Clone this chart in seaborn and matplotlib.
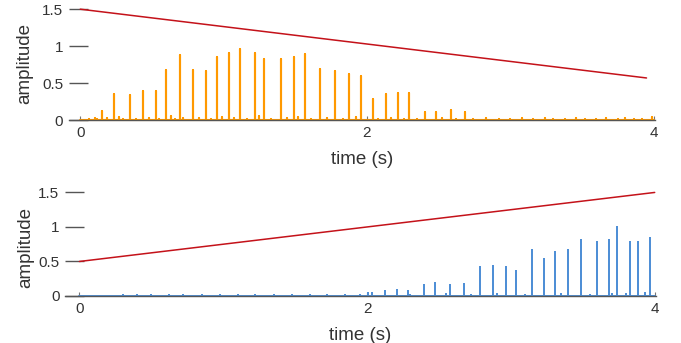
import numpy as np
import matplotlib
matplotlib.use("Agg")
import matplotlib.pyplot as plt
import seaborn as sns

# ========= DATA ===================================
# top panel: decaying envelope + orange click train
env_top_t = [0.0, 3.95]
env_top_a = [1.5, 0.57]
clicks_top_t = [0.155, 0.234, 0.35, 0.44, 0.525, 0.597, 0.694, 0.787, 0.874, 0.957,
                1.041, 1.113, 1.22, 1.285, 1.397, 1.488, 1.565, 1.669, 1.776, 1.876,
                1.955, 2.041, 2.132, 2.218, 2.295, 2.402, 2.479, 2.583, 2.681]
clicks_top_a = [0.13, 0.35, 0.34, 0.39, 0.40, 0.68, 0.88, 0.68, 0.66, 0.85,
                0.905, 0.96, 0.905, 0.82, 0.82, 0.85, 0.89, 0.69, 0.67, 0.62,
                0.60, 0.29, 0.35, 0.36, 0.36, 0.11, 0.11, 0.135, 0.115]
noise_top_t = [0.06, 0.1, 0.12, 0.19, 0.27, 0.3, 0.39, 0.48, 0.55, 0.63, 0.66, 0.72,
               0.83, 0.91, 0.99, 1.07, 1.16, 1.25, 1.33, 1.44, 1.52, 1.61, 1.72, 1.83,
               1.92, 2.08, 2.17, 2.26, 2.35, 2.52, 2.62, 2.74, 2.83, 2.92, 3.0, 3.08,
               3.16, 3.24, 3.3, 3.38, 3.46, 3.52, 3.6, 3.67, 3.75, 3.8, 3.86, 3.92, 3.99]
noise_top_a = [0.02, 0.03, 0.02, 0.03, 0.04, 0.02, 0.02, 0.03, 0.02, 0.05, 0.02, 0.03,
               0.03, 0.02, 0.04, 0.03, 0.02, 0.05, 0.02, 0.03, 0.04, 0.02, 0.03, 0.02,
               0.04, 0.02, 0.03, 0.02, 0.02, 0.03, 0.02, 0.02, 0.03, 0.02, 0.02, 0.03,
               0.02, 0.03, 0.02, 0.02, 0.03, 0.02, 0.02, 0.03, 0.02, 0.03, 0.02, 0.02, 0.04]

# bottom panel: rising envelope + blue click train
env_bot_t = [0.0, 4.0]
env_bot_a = [0.5, 1.5]
clicks_bot_t = [2.009, 2.037, 2.125, 2.21, 2.287, 2.394, 2.473, 2.577, 2.675, 2.788,
                2.876, 2.964, 3.038, 3.145, 3.228, 3.309, 3.398, 3.49, 3.6, 3.681,
                3.739, 3.827, 3.885, 3.968]
clicks_bot_a = [0.04, 0.05, 0.07, 0.08, 0.07, 0.16, 0.19, 0.16, 0.17, 0.415,
                0.435, 0.415, 0.36, 0.66, 0.53, 0.63, 0.66, 0.81, 0.78, 0.81,
                1.0, 0.78, 0.78, 0.84]
noise_bot_t = [0.3, 0.4, 0.5, 0.62, 0.72, 0.85, 0.98, 1.1, 1.22, 1.35, 1.48, 1.6,
               1.72, 1.85, 1.95, 2.3, 2.55, 2.72, 2.9, 3.1, 3.35, 3.55, 3.7, 3.8, 3.93]
noise_bot_a = [0.01, 0.015, 0.01, 0.02, 0.01, 0.015, 0.01, 0.02, 0.01, 0.015, 0.01, 0.02,
               0.01, 0.015, 0.02, 0.02, 0.03, 0.02, 0.03, 0.02, 0.03, 0.02, 0.03, 0.03, 0.04]

yticks = [0, 0.5, 1, 1.5]
yticklabels = ["0", "0.5", "1", "1.5"]
xticks = [0, 2, 4]
xticklabels = ["0", "2", "4"]

ORANGE = "#FF9900"
BLUE = "#4F8FD6"
RED = "#C4121A"
TXT = "#333333"

# ========= Helpers ==========
def waveform(t_lists, a_lists, t_end=4.0):
    # build a spike signal along the time axis from click times/heights
    pts = sorted((t, a) for tl, al in zip(t_lists, a_lists) for t, a in zip(tl, al))
    xs, ys = [0.0], [0.0]
    for t, a in pts:
        xs += [t, t, t]
        ys += [0.0, a, 0.0]
    xs.append(t_end)
    ys.append(0.0)
    return np.array(xs), np.array(ys)

def style_axis(ax, xlim):
    ax.set_xlim(*xlim)
    ax.set_ylim(-0.05, 1.55)
    for s in ["top", "right", "left"]:
        ax.spines[s].set_visible(False)
    ax.spines["bottom"].set_position(("data", 0))
    ax.spines["bottom"].set_color("#555555")
    ax.spines["bottom"].set_linewidth(1.0)
    ax.set_yticks(yticks)
    ax.set_yticklabels(yticklabels)
    ax.set_xticks(xticks)
    ax.set_xticklabels(xticklabels)
    ax.tick_params(axis="y", left=True, direction="in", length=13.5, width=1.0,
                   color="#555555", labelsize=11, labelcolor=TXT, pad=4)
    ax.tick_params(axis="x", bottom=True, direction="in", length=3, width=0.8,
                   color="#777777", labelsize=11, labelcolor=TXT, pad=4)
    ax.set_xlabel("time (s)", fontsize=13.5, color=TXT, labelpad=8)
    ax.set_ylabel("amplitude", fontsize=13.5, color=TXT)
    ax.grid(False)

# ========= Plot ==========
sns.set_theme(style="white")
plt.rcParams["font.family"] = ["Liberation Sans", "DejaVu Sans"]

fig = plt.figure(figsize=(6.81, 3.43), dpi=100)
ax1 = fig.add_axes([0.101, 0.639, 0.861, 0.345])
ax2 = fig.add_axes([0.0955, 0.127, 0.868, 0.322])

xs, ys = waveform([clicks_top_t, noise_top_t], [clicks_top_a, noise_top_a])
sns.lineplot(x=xs, y=ys, ax=ax1, color=ORANGE, lw=1.5, sort=False, estimator=None)
sns.lineplot(x=env_top_t, y=env_top_a, ax=ax1, color=RED, lw=1.1)
style_axis(ax1, (-0.08, 4.01))
ax1.yaxis.set_label_coords(33 / 681, 1 - 64 / 343, transform=fig.transFigure)

xs, ys = waveform([clicks_bot_t, noise_bot_t], [clicks_bot_a, noise_bot_a])
sns.lineplot(x=xs, y=ys, ax=ax2, color=BLUE, lw=1.4, sort=False, estimator=None)
sns.lineplot(x=env_bot_t, y=env_bot_a, ax=ax2, color=RED, lw=1.1)
style_axis(ax2, (-0.1, 4.01))
ax2.yaxis.set_label_coords(34 / 681, 1 - 247 / 343, transform=fig.transFigure)

fig.savefig("out.png", dpi=100)
